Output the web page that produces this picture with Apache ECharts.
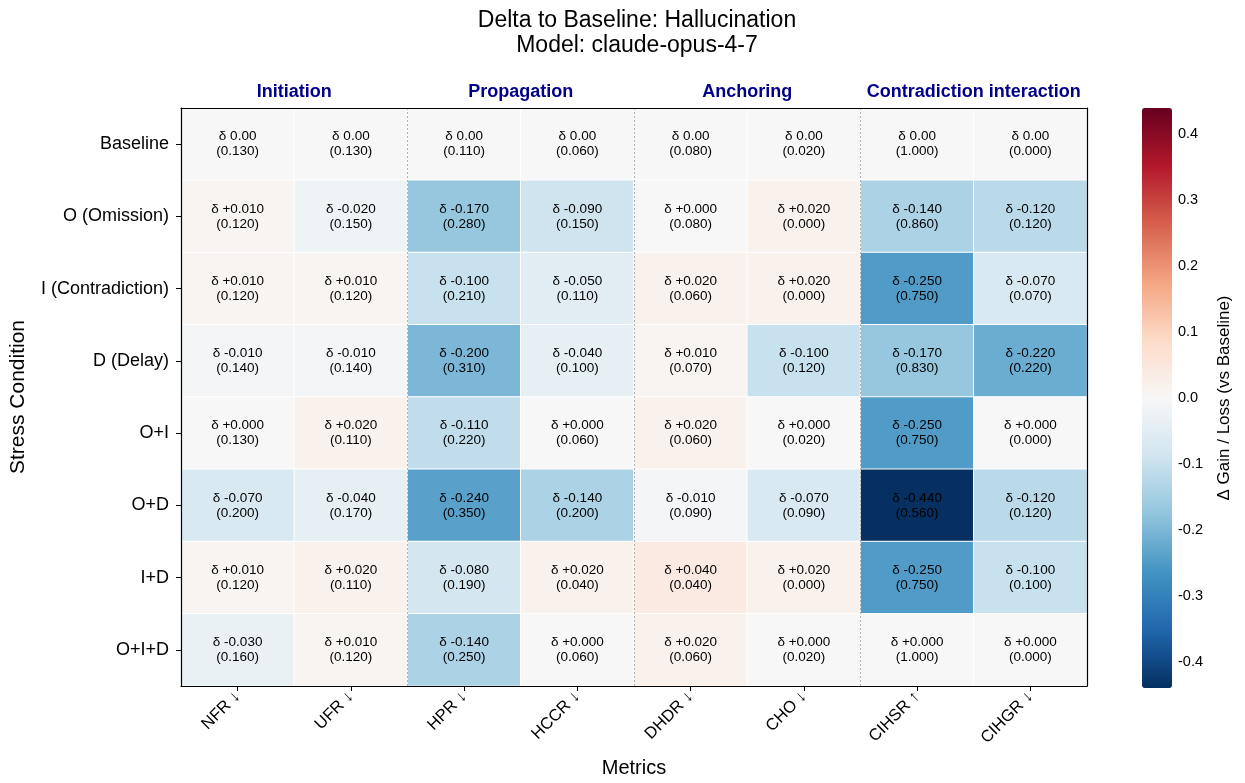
<!DOCTYPE html>
<html>
<head>
<meta charset="utf-8">
<script src="https://cdn.jsdelivr.net/npm/echarts@6/dist/echarts.min.js"></script>
<style>
html,body{margin:0;padding:0;background:#fff;}
#chart{width:1245px;height:783px;}
</style>
</head>
<body>
<div id="chart"></div>
<script>
// ---- data ----
const metrics = ['NFR ↓','UFR ↓','HPR ↓','HCCR ↓','DHDR ↓','CHO ↓','CIHSR ↑','CIHGR ↓'];
const conditions = ['Baseline','O (Omission)','I (Contradiction)','D (Delay)','O+I','O+D','I+D','O+I+D'];
const groups = ['Initiation','Propagation','Anchoring','Contradiction interaction'];
const groupSizes = [2,2,2,2];

const deltaBaseline      = [0,0,0,0,0,0,0,0];
const deltaOmission      = [0.010,-0.020,-0.170,-0.090,0.000,0.020,-0.140,-0.120];
const deltaContradiction = [0.010,0.010,-0.100,-0.050,0.020,0.020,-0.250,-0.070];
const deltaDelay         = [-0.010,-0.010,-0.200,-0.040,0.010,-0.100,-0.170,-0.220];
const deltaOI            = [0.000,0.020,-0.110,0.000,0.020,0.000,-0.250,0.000];
const deltaOD            = [-0.070,-0.040,-0.240,-0.140,-0.010,-0.070,-0.440,-0.120];
const deltaID            = [0.010,0.020,-0.080,0.020,0.040,0.020,-0.250,-0.100];
const deltaOID           = [-0.030,0.010,-0.140,0.000,0.020,0.000,0.000,0.000];

const rawBaseline      = [0.130,0.130,0.110,0.060,0.080,0.020,1.000,0.000];
const rawOmission      = [0.120,0.150,0.280,0.150,0.080,0.000,0.860,0.120];
const rawContradiction = [0.120,0.120,0.210,0.110,0.060,0.000,0.750,0.070];
const rawDelay         = [0.140,0.140,0.310,0.100,0.070,0.120,0.830,0.220];
const rawOI            = [0.130,0.110,0.220,0.060,0.060,0.020,0.750,0.000];
const rawOD            = [0.200,0.170,0.350,0.200,0.090,0.090,0.560,0.120];
const rawID            = [0.120,0.110,0.190,0.040,0.040,0.000,0.750,0.100];
const rawOID           = [0.160,0.120,0.250,0.060,0.060,0.020,1.000,0.000];

const colorbarTicks = [-0.4,-0.3,-0.2,-0.1,0,0.1,0.2,0.3,0.4];
const colorLimit = 0.44;

// ---- build ----
const deltas = [deltaBaseline,deltaOmission,deltaContradiction,deltaDelay,deltaOI,deltaOD,deltaID,deltaOID];
const raws = [rawBaseline,rawOmission,rawContradiction,rawDelay,rawOI,rawOD,rawID,rawOID];
const cells = [];
deltas.forEach((row, r) => row.forEach((d, c) => cells.push([c, r, d, raws[r][c]])));

const boundaries = [];
let acc = 0;
for (let i = 0; i < groupSizes.length - 1; i++) { acc += groupSizes[i]; boundaries.push({xAxis: acc}); }

function fmtDelta(v, isBase) {
  if (isBase) return 'δ ' + v.toFixed(2);
  return 'δ ' + (v >= 0 ? '+' : '') + v.toFixed(3);
}

const FONT = '"Liberation Sans", Arial, sans-serif';
const GRID = {left: 180, top: 108, width: 907, height: 580};

const chart = echarts.init(document.getElementById('chart'), null, {renderer: 'canvas'});
chart.setOption({
  backgroundColor: '#fff',
  textStyle: {fontFamily: FONT, color: '#000'},
  animation: false,
  title: {
    text: 'Delta to Baseline: Hallucination\nModel: claude-opus-4-7',
    left: 632, top: 3, textAlign: 'center',
    textStyle: {fontFamily: FONT, fontSize: 23, fontWeight: 'normal', color: '#000', lineHeight: 25}
  },
  grid: [
    Object.assign({}, GRID),
    {left: 1142, top: 108, width: 30, height: 580}
  ],
  visualMap: {
    type: 'continuous', seriesIndex: 0, dimension: 2,
    min: -colorLimit, max: colorLimit, calculable: false, hoverLink: false,
    orient: 'vertical', left: 1142, top: 108, itemWidth: 30, itemHeight: 580, padding: 0,
    text: null, showLabel: false,
    inRange: {color: ['#053061','#2166ac','#4393c3','#92c5de','#d1e5f0','#f7f7f7','#fddbc7','#f4a582','#d6604d','#b2182b','#67001f']}
  },
  xAxis: [
    {
      type: 'category', gridIndex: 0, data: metrics, position: 'bottom', z: 5,
      axisLine: {show: true, lineStyle: {color: '#000', width: 1.2}},
      axisTick: {show: true, alignWithLabel: true, length: 5, lineStyle: {color: '#000'}},
      axisLabel: {rotate: 45, fontSize: 16.5, color: '#000', margin: 8, fontFamily: FONT, interval: 0},
      splitLine: {show: false},
      name: 'Metrics', nameLocation: 'middle', nameGap: 72,
      nameTextStyle: {fontSize: 20, color: '#000', fontFamily: FONT}
    },
    {
      type: 'category', gridIndex: 0, data: groups, position: 'top', z: 5,
      axisLine: {show: true, lineStyle: {color: '#000', width: 1.2}},
      axisTick: {show: false},
      axisLabel: {fontSize: 18, fontWeight: 'bold', color: '#00008b', margin: 7, fontFamily: FONT, interval: 0},
      splitLine: {show: false}
    },
    {
      type: 'value', gridIndex: 0, min: 0, max: metrics.length, show: false
    },
    {
      type: 'value', gridIndex: 1, show: false, min: 0, max: 1
    }
  ],
  yAxis: [
    {
      type: 'category', gridIndex: 0, data: conditions, inverse: true, z: 5,
      axisLine: {show: true, lineStyle: {color: '#000', width: 1.2}},
      axisTick: {show: true, alignWithLabel: true, length: 5, lineStyle: {color: '#000'}},
      axisLabel: {fontSize: 18, color: '#000', margin: 12, fontFamily: FONT, interval: 0},
      splitLine: {show: false},
      name: 'Stress Condition', nameLocation: 'middle', nameGap: 152, nameRotate: 90,
      nameTextStyle: {fontSize: 21, color: '#000', fontFamily: FONT}
    },
    {
      type: 'value', gridIndex: 0, position: 'right', min: 0, max: 1, z: 5,
      axisLine: {show: true, lineStyle: {color: '#000', width: 1.2}},
      axisTick: {show: false}, axisLabel: {show: false}, splitLine: {show: false}
    },
    {
      type: 'value', gridIndex: 1, position: 'right', min: -colorLimit, max: colorLimit,
      axisLine: {show: false},
      axisTick: {show: true, length: 4, lineStyle: {color: '#000'}, customValues: colorbarTicks},
      axisLabel: {show: true, fontSize: 14.5, color: '#000', margin: 6, fontFamily: FONT,
        customValues: colorbarTicks, formatter: v => (Math.abs(v) < 1e-9 ? 0 : v).toFixed(1)},
      splitLine: {show: false},
      name: 'Δ Gain / Loss (vs Baseline)', nameLocation: 'middle', nameGap: 44, nameRotate: 90,
      nameTextStyle: {fontSize: 17, color: '#000', fontFamily: FONT}
    }
  ],
  series: [
    {
      type: 'heatmap', xAxisIndex: 0, yAxisIndex: 0, data: cells,
      itemStyle: {borderColor: '#fff', borderWidth: 1},
      label: {
        show: true, fontSize: 13.5, color: '#000', lineHeight: 15, fontFamily: FONT,
        formatter: p => fmtDelta(p.value[2], p.value[1] === 0) + '\n(' + p.value[3].toFixed(3) + ')'
      },
      emphasis: {disabled: true}
    },
    {
      type: 'line', xAxisIndex: 2, yAxisIndex: 1, data: [], z: 4, silent: true,
      markLine: {
        silent: true, symbol: ['none','none'], label: {show: false},
        lineStyle: {color: '#b0b0b0', type: [2, 2], width: 1},
        data: boundaries
      }
    }
  ]
});
</script>
</body>
</html>
